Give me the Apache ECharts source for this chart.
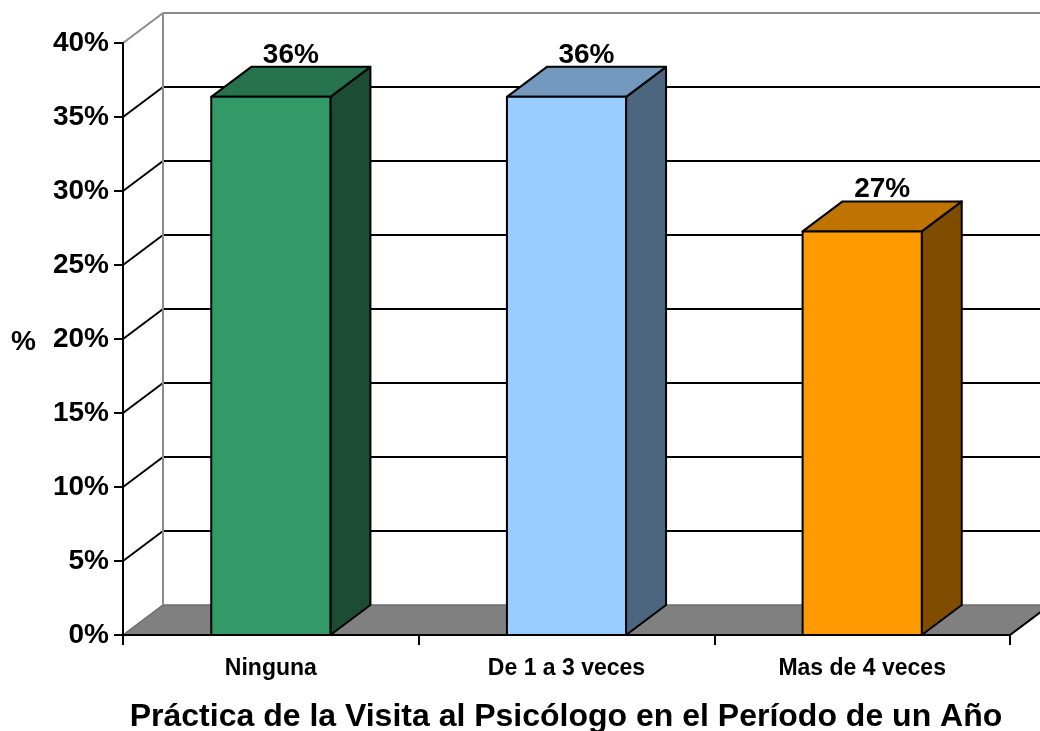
<!DOCTYPE html>
<html>
<head>
<meta charset="utf-8">
<script src="https://cdn.jsdelivr.net/npm/echarts@6/dist/echarts.min.js"></script>
<style>
html,body{margin:0;padding:0;background:#fff;}
#chart{width:1040px;height:731px;}
</style>
</head>
<body>
<div id="chart"></div>
<script>
const categories = ['Ninguna', 'De 1 a 3 veces', 'Mas de 4 veces'];
const values = [36.36, 36.36, 27.27];
const valueLabels = ['36%', '36%', '27%'];
const yTicks = [0, 5, 10, 15, 20, 25, 30, 35, 40];
const frontColors = ['#339966', '#99ccff', '#ff9900'];
const topColors = ['#26734d', '#7399bf', '#bf7300'];
const sideColors = ['#1c4d34', '#4c6680', '#804c00'];
const titleText = 'Práctica de la Visita al Psicólogo en el Período de un Año';

const DX = 40, DY = -30;
const FONT = 'Liberation Sans, Arial, sans-serif';

const chart = echarts.init(document.getElementById('chart'), null, {renderer: 'canvas'});

function frameItem(params, api) {
  const cs = params.coordSys;
  const x0 = cs.x, x1 = cs.x + cs.width;
  const v = api.value(1);
  const y = api.coord([0, v])[1];
  const children = [];
  if (v === 0) {
    children.push({
      type: 'polygon',
      shape: {points: [[x0, y], [x1, y], [x1 + DX, y + DY], [x0 + DX, y + DY]]},
      style: {fill: '#808080', stroke: '#6e6e6e', lineWidth: 1.5}
    });
    children.push({
      type: 'line',
      shape: {x1: x1, y1: y, x2: x1 + DX, y2: y + DY},
      style: {stroke: '#000', lineWidth: 2}
    });
    children.push({
      type: 'line',
      shape: {x1: x0, y1: y, x2: x1, y2: y},
      style: {stroke: '#000', lineWidth: 2}
    });
  } else {
    const col = v === 40 ? '#8c8c8c' : '#000';
    children.push({
      type: 'line',
      shape: {x1: x0 + DX, y1: y + DY, x2: x1 + DX, y2: y + DY},
      style: {stroke: col, lineWidth: 2}
    });
    children.push({
      type: 'line',
      shape: {x1: x0, y1: y, x2: x0 + DX, y2: y + DY},
      style: {stroke: col, lineWidth: 2}
    });
    if (v === 40) {
      const yb = api.coord([0, 0])[1];
      children.push({
        type: 'line',
        shape: {x1: x0 + DX, y1: y + DY, x2: x0 + DX, y2: yb + DY},
        style: {stroke: '#8c8c8c', lineWidth: 2}
      });
    }
  }
  return {type: 'group', children: children};
}

function barItem(params, api) {
  const i = api.value(0);
  const v = api.value(1);
  const top = api.coord([i, v]);
  const base = api.coord([i, 0]);
  const band = api.size([1, 0])[0];
  const w = band * 0.403;
  const xL = top[0] - w / 2, xR = top[0] + w / 2;
  const yT = top[1], yB = base[1];
  const st = {stroke: '#000', lineWidth: 2, lineJoin: 'round'};
  return {
    type: 'group',
    children: [
      {type: 'polygon', shape: {points: [[xR, yT], [xR + DX, yT + DY], [xR + DX, yB + DY], [xR, yB]]},
        style: Object.assign({fill: sideColors[i]}, st)},
      {type: 'polygon', shape: {points: [[xL, yT], [xR, yT], [xR + DX, yT + DY], [xL + DX, yT + DY]]},
        style: Object.assign({fill: topColors[i]}, st)},
      {type: 'rect', shape: {x: xL, y: yT, width: w, height: yB - yT},
        style: Object.assign({fill: frontColors[i]}, st)},
      {type: 'text', x: top[0] + DX / 2, y: yT + DY + 2,
        style: {text: valueLabels[i], fill: '#000', font: 'bold 28px ' + FONT, textAlign: 'center', textVerticalAlign: 'bottom'}}
    ]
  };
}

const option = {
  backgroundColor: '#ffffff',
  animation: false,
  grid: {left: 123, right: 30, top: 43, bottom: 96, containLabel: false},
  xAxis: {
    type: 'category',
    data: categories,
    z: 10,
    boundaryGap: true,
    axisLine: {show: true, lineStyle: {color: '#000', width: 2}},
    axisTick: {show: true, alignWithLabel: false, length: 10, lineStyle: {color: '#000', width: 2}},
    axisLabel: {color: '#000', fontFamily: FONT, fontWeight: 'bold', fontSize: 23, margin: 22},
    splitLine: {show: false}
  },
  yAxis: {
    type: 'value',
    min: 0, max: 40, interval: 5,
    z: 10,
    axisLine: {show: true, lineStyle: {color: '#000', width: 2}},
    axisTick: {show: true, inside: false, length: 9, lineStyle: {color: '#000', width: 2}},
    axisLabel: {color: '#000', fontFamily: FONT, fontWeight: 'bold', fontSize: 28, margin: 14, formatter: '{value}%'},
    splitLine: {show: false}
  },
  graphic: [
    {type: 'text', left: 11, top: 328, style: {text: '%', fill: '#000', font: 'bold 28px ' + FONT}},
    {type: 'text', x: 566, y: 717, style: {text: titleText, fill: '#000', font: 'bold 32px ' + FONT, textAlign: 'center', textVerticalAlign: 'middle'}}
  ],
  series: [
    {type: 'custom', z: 1, silent: true, renderItem: frameItem, data: yTicks.map(v => [0, v])},
    {type: 'custom', z: 3, silent: true, renderItem: barItem, data: values.map((v, i) => [i, v])}
  ]
};
chart.setOption(option);
</script>
</body>
</html>
